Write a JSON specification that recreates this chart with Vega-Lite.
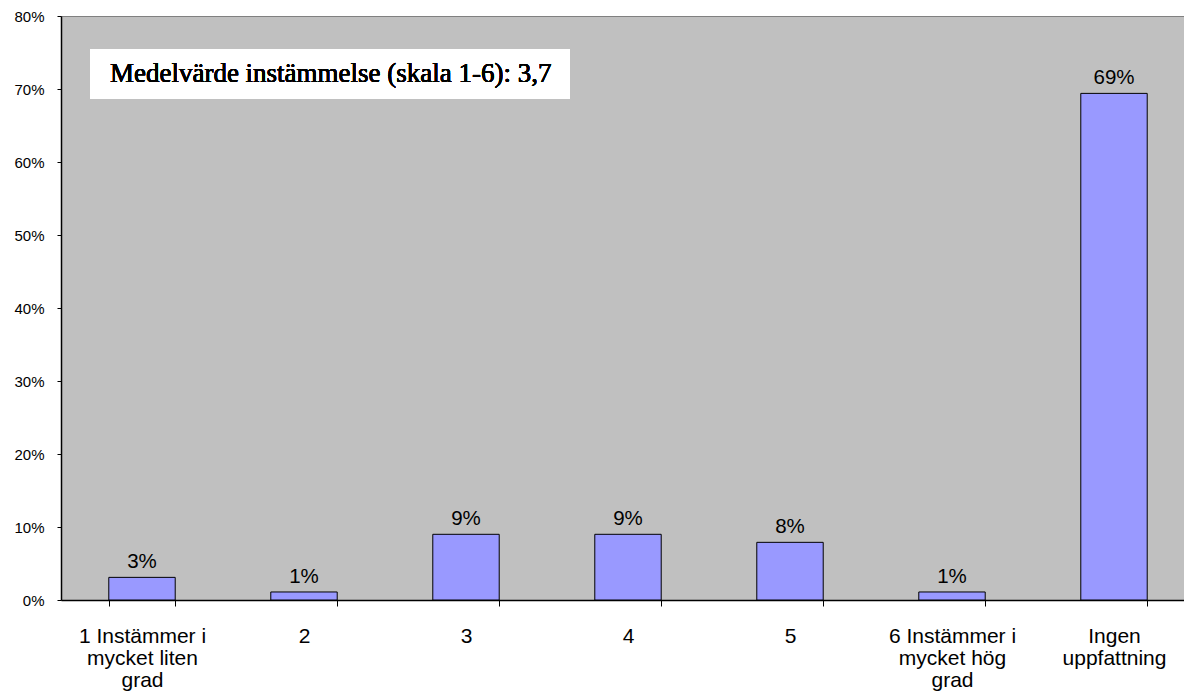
{
  "$schema": "https://vega.github.io/schema/vega-lite/v6.json",
  "autosize": "none",
  "padding": {"left": 61, "top": 16, "right": 0, "bottom": 99},
  "width": 1134,
  "height": 584,
  "background": "white",
  "config": {
    "view": {"fill": "#c0c0c0", "stroke": "#808080", "strokeWidth": 1},
    "axis": {"grid": false, "domainColor": "#000000", "tickColor": "#000000", "labelColor": "#000000", "labelFont": "Liberation Sans", "title": null}
  },
  "data": {
    "values": [
      {"svar": "1 Instämmer i mycket liten grad", "andel": 0.031},
      {"svar": "2", "andel": 0.011},
      {"svar": "3", "andel": 0.09},
      {"svar": "4", "andel": 0.09},
      {"svar": "5", "andel": 0.079},
      {"svar": "6 Instämmer i mycket hög grad", "andel": 0.011},
      {"svar": "Ingen uppfattning", "andel": 0.694}
    ]
  },
  "layer": [
    {
      "encoding": {
        "x": {
          "field": "svar", "type": "nominal", "sort": null,
          "scale": {"paddingInner": 0.59, "paddingOuter": 0.295},
          "axis": {
            "labelAngle": 0, "labelFontSize": 21, "labelLineHeight": 22, "labelLimit": 300,
            "tickBand": "extent", "tickSize": 6, "labelPadding": 19, "domainWidth": 1.5,
            "labelExpr": "datum.value == '1 Instämmer i mycket liten grad' ? ['1 Instämmer i', 'mycket liten', 'grad'] : datum.value == '6 Instämmer i mycket hög grad' ? ['6 Instämmer i', 'mycket hög', 'grad'] : datum.value == 'Ingen uppfattning' ? ['Ingen', 'uppfattning'] : datum.value"
          }
        },
        "y": {
          "field": "andel", "type": "quantitative",
          "scale": {"domain": [0, 0.8], "nice": false},
          "axis": {"format": ".0%", "values": [0, 0.1, 0.2, 0.3, 0.4, 0.5, 0.6, 0.7, 0.8], "labelFontSize": 15, "tickSize": 4, "labelPadding": 13, "domainWidth": 1.5}
        }
      },
      "layer": [
        {"mark": {"type": "bar", "fill": "#9999ff", "stroke": "#000000", "strokeWidth": 1}},
        {
          "mark": {"type": "text", "fontSize": 20.5, "font": "Liberation Sans", "color": "#000000", "baseline": "alphabetic", "dy": -9},
          "encoding": {"text": {"field": "andel", "type": "quantitative", "format": ".0%"}}
        }
      ]
    },
    {
      "layer": [
        {
          "mark": {"type": "rect", "fill": "#ffffff", "stroke": null},
          "encoding": {
            "x": {"datum": 0.179, "type": "quantitative", "scale": {"domain": [0, 7], "nice": false, "zero": false}, "axis": null},
            "x2": {"datum": 3.142},
            "y": {"datum": 0.7548, "type": "quantitative"},
            "y2": {"datum": 0.687}
          }
        },
        {
          "mark": {"type": "text", "font": "Liberation Serif", "fontWeight": "normal", "fontSize": 27, "align": "left", "baseline": "middle", "color": "#000000"},
          "encoding": {
            "x": {"datum": 0.302, "type": "quantitative", "scale": {"domain": [0, 7], "nice": false, "zero": false}, "axis": null},
            "y": {"datum": 0.7205, "type": "quantitative"},
            "text": {"value": "Medelvärde instämmelse (skala 1-6): 3,7"}
          }
        }
      ]
    }
  ],
  "resolve": {"scale": {"x": "independent"}, "axis": {"x": "independent"}}
}
